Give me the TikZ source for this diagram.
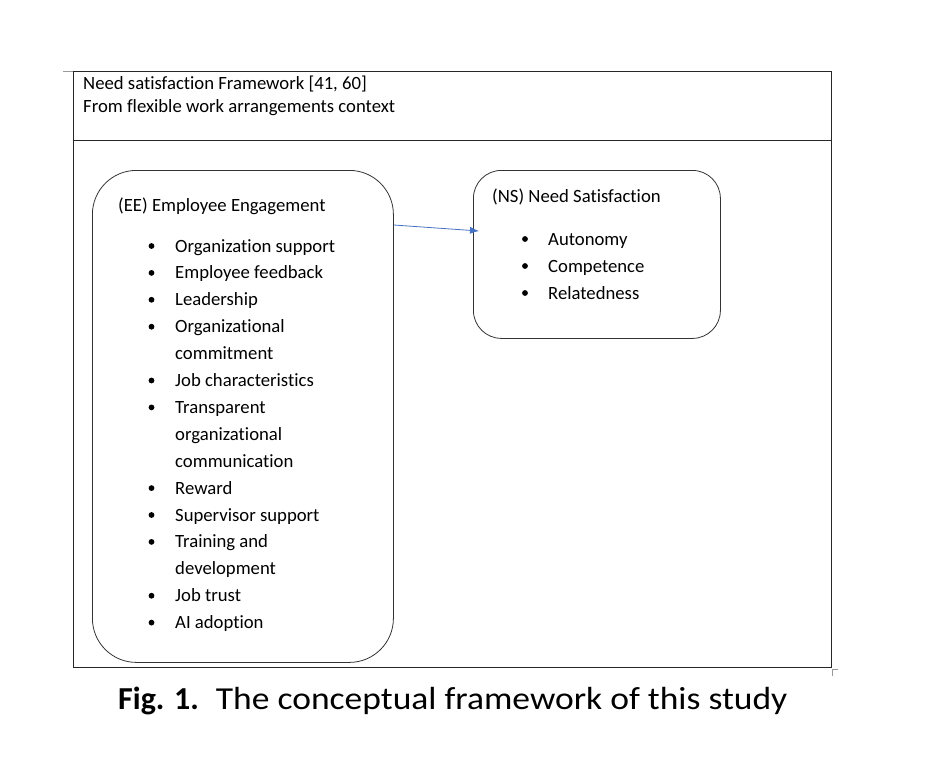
\documentclass[tikz,border=0pt]{standalone}
\usepackage{fontspec}
\setmainfont{Carlito}[Ligatures={NoCommon}]
\usetikzlibrary{arrows.meta}
\definecolor{arrowblue}{HTML}{4472C4}
\definecolor{tickgrey}{gray}{0.6}
\begin{document}
\begin{tikzpicture}[x=1pt,y=-1pt,
  txt/.style={anchor=base west, inner sep=0pt, font=\fontsize{18.7}{22}\selectfont},
  bul/.style={fill=black, circle, inner sep=0pt, minimum size=5.8pt},
  framebox/.style={draw=black!85, line width=1.3pt, anchor=north west, inner sep=0pt},
  roundbox/.style={draw=black!80, line width=0.8pt, anchor=north west, inner sep=0pt},
  link/.style={draw=arrowblue, line width=0.8pt, -{Latex[length=9pt,width=7pt]}},
  tick/.style={draw=tickgrey, line width=0.8pt}]
\useasboundingbox (0,0) rectangle (934,758);
% outer frame
\node[framebox, minimum width=758pt, minimum height=69pt] (head) at (73,71) {};
\node[framebox, minimum width=758pt, minimum height=527pt] (body) at (73,140) {};
\coordinate (tl) at (63,71);
\coordinate (br1) at (838,669);
\coordinate (br2) at (832,676);
\draw[tick] (tl) -- (head.north west);
\draw[tick] (br1) -| (br2);
% header texts
\node[txt] (h1) at (83,89) {Need satisfaction Framework [41, 60]};
\node[txt] (h2) at (83,112) {From flexible work arrangements context};
% boxes
\node[roundbox, rounded corners=44pt, minimum width=301pt, minimum height=492pt] (ee) at (92,170) {};
\node[roundbox, rounded corners=28pt, minimum width=247pt, minimum height=168pt] (ns) at (473,170) {};
% EE content
\node[txt] (eet) at (118,211) {(EE) Employee Engagement};
\foreach \n/\t/\b [count=\i from 0] in {
  e1/{Organization support}/1,
  e2/{Employee feedback}/1,
  e3/{Leadership}/1,
  e4/{Organizational}/1,
  e5/{commitment}/0,
  e6/{Job characteristics}/1,
  e7/{Transparent}/1,
  e8/{organizational}/0,
  e9/{communication}/0,
  e10/{Reward}/1,
  e11/{Supervisor support}/1,
  e12/{Training and}/1,
  e13/{development}/0,
  e14/{Job trust}/1,
  e15/{AI adoption}/1}{
  \node[txt] (\n) at (175,{252+26.9*\i}) {\t};
  \ifnum\b=1 \node[bul] (\n b) at (151.5,{252+26.9*\i-6}) {};\fi
}
% NS content
\node[txt] (nst) at (492,202) {(NS) Need Satisfaction};
\foreach \n/\t [count=\i from 0] in {n1/Autonomy, n2/Competence, n3/Relatedness}{
  \node[txt] (\n) at (548,{245+27*\i}) {\t};
  \node[bul] (\n b) at (525,{245+27*\i-6}) {};
}
% arrow
\coordinate (astart) at (392,225);
\coordinate (aend) at (479,231);
\draw[link] (ee.east |- astart) -- (aend);
% caption
\node[anchor=base west, inner sep=0pt, font=\fontsize{32}{38}\selectfont] (cap) at (118,709) {\textbf{Fig. 1.}\hspace{17pt}\scalebox{1.11}[1]{The conceptual framework of this study}};
\end{tikzpicture}
\end{document}
